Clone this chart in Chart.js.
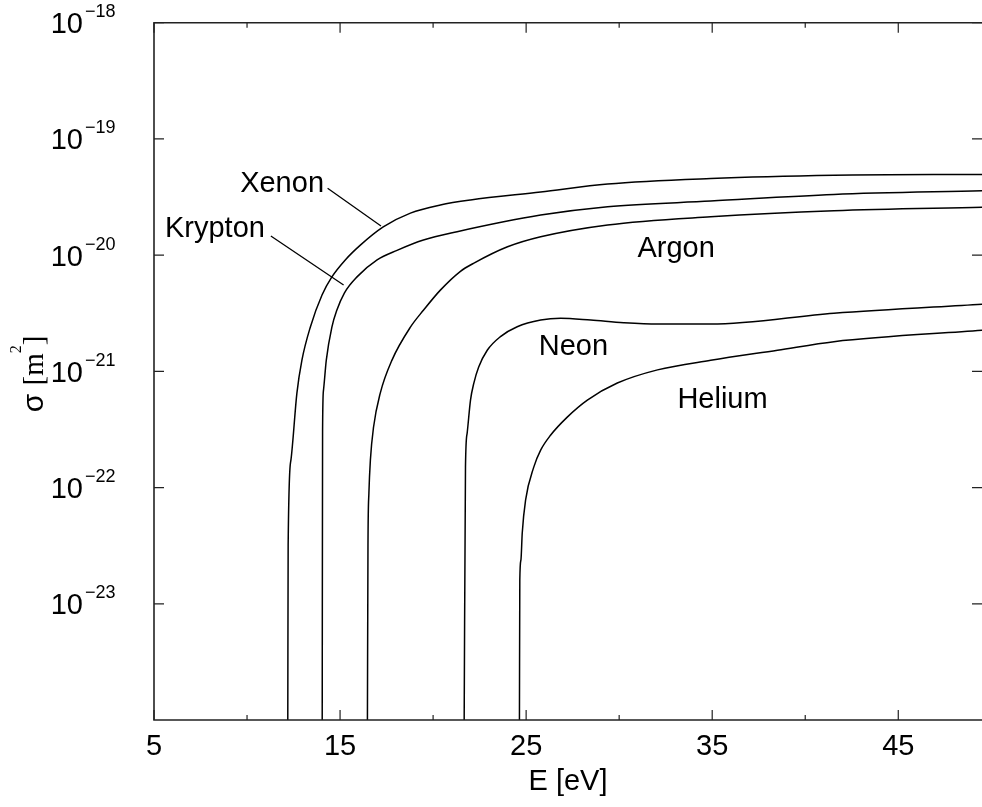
<!DOCTYPE html>
<html lang="en">
<head>
<meta charset="UTF-8">
<title>Electron impact ionization cross sections</title>
<script src="https://cdn.jsdelivr.net/npm/chart.js"></script>
<style>
  html, body { margin: 0; padding: 0; background: #fff; }
  #wrap { width: 982px; height: 807px; position: relative; }
</style>
</head>
<body>
<div id="wrap"><canvas id="sigmaChart"></canvas></div>
<script>
// electron energy E [eV] and cross section sigma [m^2] for each gas
const xenonE     = [12.19, 12.21, 12.36, 12.68, 12.95, 13.40, 14.03, 14.56, 15.28, 16.09, 17.32, 18.78, 20.39, 22.01, 25.78, 29.38, 34.92, 41.54, 49.56];
const xenonSigma = [1e-24, 3.2e-23, 1.73e-22, 6.5e-22, 1.25e-21, 2.4e-21, 4.54e-21, 6.5e-21, 9.1e-21, 1.22e-20, 1.75e-20, 2.3e-20, 2.7e-20, 2.98e-20, 3.49e-20, 4.09e-20, 4.56e-20, 4.86e-20, 4.95e-20];

const kryptonE     = [14.04, 14.06, 14.11, 14.26, 14.56, 14.83, 15.23, 15.91, 16.99, 18.06, 19.48, 21.29, 25.78, 29.38, 34.92, 41.54, 49.56];
const kryptonSigma = [1e-24, 3.1e-22, 6.9e-22, 1.25e-21, 2.4e-21, 3.37e-21, 4.72e-21, 6.5e-21, 9.1e-21, 1.1e-20, 1.35e-20, 1.59e-20, 2.21e-20, 2.61e-20, 2.92e-20, 3.33e-20, 3.58e-20];

const argonE     = [16.47, 16.50, 16.55, 16.63, 16.80, 17.16, 17.79, 18.78, 19.49, 20.39, 21.47, 22.17, 24.00, 25.78, 29.38, 34.92, 41.54, 49.56];
const argonSigma = [1e-24, 3.2e-23, 8.97e-23, 1.73e-22, 3.32e-22, 6.5e-22, 1.25e-21, 2.4e-21, 3.37e-21, 5.0e-21, 7.26e-21, 8.5e-21, 1.18e-20, 1.44e-20, 1.82e-20, 2.14e-20, 2.41e-20, 2.58e-20];

const neonE     = [21.67, 21.74, 21.83, 22.01, 22.19, 22.45, 22.91, 23.62, 24.52, 25.78, 26.85, 28.47, 30.24, 32.06, 34.92, 41.54, 49.56];
const neonSigma = [1e-24, 1.5e-22, 2.94e-22, 5.66e-22, 7.93e-22, 1.09e-21, 1.52e-21, 1.99e-21, 2.42e-21, 2.76e-21, 2.86e-21, 2.76e-21, 2.62e-21, 2.55e-21, 2.55e-21, 3.16e-21, 3.79e-21];

const heliumE     = [24.64, 24.66, 24.72, 24.79, 24.97, 25.41, 25.78, 26.31, 27.21, 28.29, 29.90, 32.06, 34.92, 38.51, 41.54, 49.56];
const heliumSigma = [1e-24, 1.6e-23, 2.38e-23, 4.05e-23, 7.8e-23, 1.5e-22, 2.1e-22, 2.82e-22, 4.04e-22, 5.66e-22, 7.93e-22, 1.03e-21, 1.245e-21, 1.52e-21, 1.8e-21, 2.26e-21];

// axis ticks
const xMajorTicks = [5, 15, 25, 35, 45];
const xMinorTicks = [10, 20, 30, 40];
const yExponents  = [-18, -19, -20, -21, -22, -23];

// curve names, placed in data units (left edge, baseline)
const curveLabels = [
  { text: 'Xenon',   E: 9.63,  sigma: 3.52e-20 },
  { text: 'Krypton', E: 5.59,  sigma: 1.42e-20 },
  { text: 'Argon',   E: 30.98, sigma: 9.57e-21 },
  { text: 'Neon',    E: 25.68, sigma: 1.38e-21 },
  { text: 'Helium',  E: 33.13, sigma: 4.81e-22 }
];
const leaderLines = [
  { from: [14.33, 3.76e-20], to: [17.20, 1.78e-20] },
  { from: [11.28, 1.46e-20], to: [15.19, 5.53e-21] }
];

const FONT = '"Liberation Sans", Arial, Helvetica, sans-serif';
const SERIF = '"Liberation Serif", "Times New Roman", serif';

function toPoints(es, ss) {
  return es.map((e, i) => ({ x: e, y: ss[i] }));
}

function curve(label, es, ss) {
  return {
    label: label,
    data: toPoints(es, ss),
    borderColor: '#000',
    borderWidth: 1.5,
    pointRadius: 0,
    fill: false,
    cubicInterpolationMode: 'monotone'
  };
}

// frame, inward ticks, exponent labels, y title and curve names
const framePlugin = {
  id: 'frame',
  afterDatasetsDraw(chart) {
    const ctx = chart.ctx;
    const a = chart.chartArea;
    const xs = chart.scales.x, ys = chart.scales.y;

    ctx.save();
    ctx.strokeStyle = '#222';
    ctx.lineWidth = 1.6;
    ctx.beginPath();
    ctx.moveTo(a.right, a.top);
    ctx.lineTo(a.left, a.top);
    ctx.lineTo(a.left, a.bottom);
    ctx.lineTo(a.right, a.bottom);
    ctx.stroke();

    ctx.lineWidth = 1.2;
    ctx.beginPath();
    xMajorTicks.forEach(v => {
      const px = xs.getPixelForValue(v);
      ctx.moveTo(px, a.bottom); ctx.lineTo(px, a.bottom - 10);
      ctx.moveTo(px, a.top);    ctx.lineTo(px, a.top + 10);
    });
    xMinorTicks.forEach(v => {
      const px = xs.getPixelForValue(v);
      ctx.moveTo(px, a.bottom); ctx.lineTo(px, a.bottom - 5);
      ctx.moveTo(px, a.top);    ctx.lineTo(px, a.top + 5);
    });
    yExponents.forEach(p => {
      const py = ys.getPixelForValue(Math.pow(10, p));
      ctx.moveTo(a.left, py);  ctx.lineTo(a.left + 10, py);
      ctx.moveTo(a.right, py); ctx.lineTo(a.right - 10, py);
    });
    ctx.stroke();

    // 10^n labels
    ctx.fillStyle = '#000';
    ctx.textBaseline = 'alphabetic';
    yExponents.forEach(p => {
      const py = ys.getPixelForValue(Math.pow(10, p));
      ctx.font = '29px ' + FONT;
      ctx.textAlign = 'right';
      ctx.fillText('10', 83, py + 10.5);
      ctx.font = '18px ' + FONT;
      ctx.textAlign = 'left';
      ctx.fillText('\u2212' + Math.abs(p), 85, py - 5.5);
    });

    // y axis title: sigma [m^2]
    ctx.save();
    ctx.translate(42.5, 374);
    ctx.rotate(-Math.PI / 2);
    const parts = [
      { t: '\u03c3 ', f: '30px ' + FONT, dy: 0 },
      { t: '[m', f: '29px ' + SERIF, dy: 0 },
      { t: '2', f: '16px ' + SERIF, dy: -22 },
      { t: ']', f: '29px ' + SERIF, dy: 0 }
    ];
    let total = 0;
    parts.forEach(s => { ctx.font = s.f; s.w = ctx.measureText(s.t).width; total += s.w; });
    let cx = -total / 2;
    ctx.textAlign = 'left';
    parts.forEach(s => { ctx.font = s.f; ctx.fillText(s.t, cx, s.dy); cx += s.w; });
    ctx.restore();

    // curve names and leader lines
    ctx.font = '29px ' + FONT;
    ctx.textAlign = 'left';
    curveLabels.forEach(l => {
      ctx.fillText(l.text, xs.getPixelForValue(l.E), ys.getPixelForValue(l.sigma));
    });
    ctx.strokeStyle = '#000';
    ctx.lineWidth = 1.3;
    ctx.beginPath();
    leaderLines.forEach(l => {
      ctx.moveTo(xs.getPixelForValue(l.from[0]), ys.getPixelForValue(l.from[1]));
      ctx.lineTo(xs.getPixelForValue(l.to[0]), ys.getPixelForValue(l.to[1]));
    });
    ctx.stroke();
    ctx.restore();
  }
};

new Chart(document.getElementById('sigmaChart'), {
  type: 'line',
  data: {
    datasets: [
      curve('Xenon', xenonE, xenonSigma),
      curve('Krypton', kryptonE, kryptonSigma),
      curve('Argon', argonE, argonSigma),
      curve('Neon', neonE, neonSigma),
      curve('Helium', heliumE, heliumSigma)
    ]
  },
  options: {
    responsive: true,
    maintainAspectRatio: false,
    animation: false,
    layout: { padding: { top: 22.7, right: 0, bottom: 0, left: 0 } },
    plugins: { legend: { display: false }, tooltip: { enabled: false } },
    scales: {
      x: {
        type: 'linear',
        min: 5,
        max: 49.5,
        grid: { display: false, drawTicks: false },
        border: { display: false },
        afterBuildTicks: s => { s.ticks = xMajorTicks.map(v => ({ value: v })); },
        afterFit: s => { s.height = 87; },
        ticks: {
          color: '#000',
          padding: 10,
          maxRotation: 0,
          autoSkip: false,
          font: { family: FONT, size: 29 }
        },
        title: {
          display: true,
          text: 'E [eV]',
          color: '#000',
          padding: { top: 0, bottom: 8 },
          font: { family: FONT, size: 29 }
        }
      },
      y: {
        type: 'logarithmic',
        min: 1e-24,
        max: 1e-18,
        grid: { display: false, drawTicks: false },
        border: { display: false },
        ticks: { display: false },
        afterFit: s => { s.width = 154; }
      }
    }
  },
  plugins: [framePlugin]
});
</script>
</body>
</html>
